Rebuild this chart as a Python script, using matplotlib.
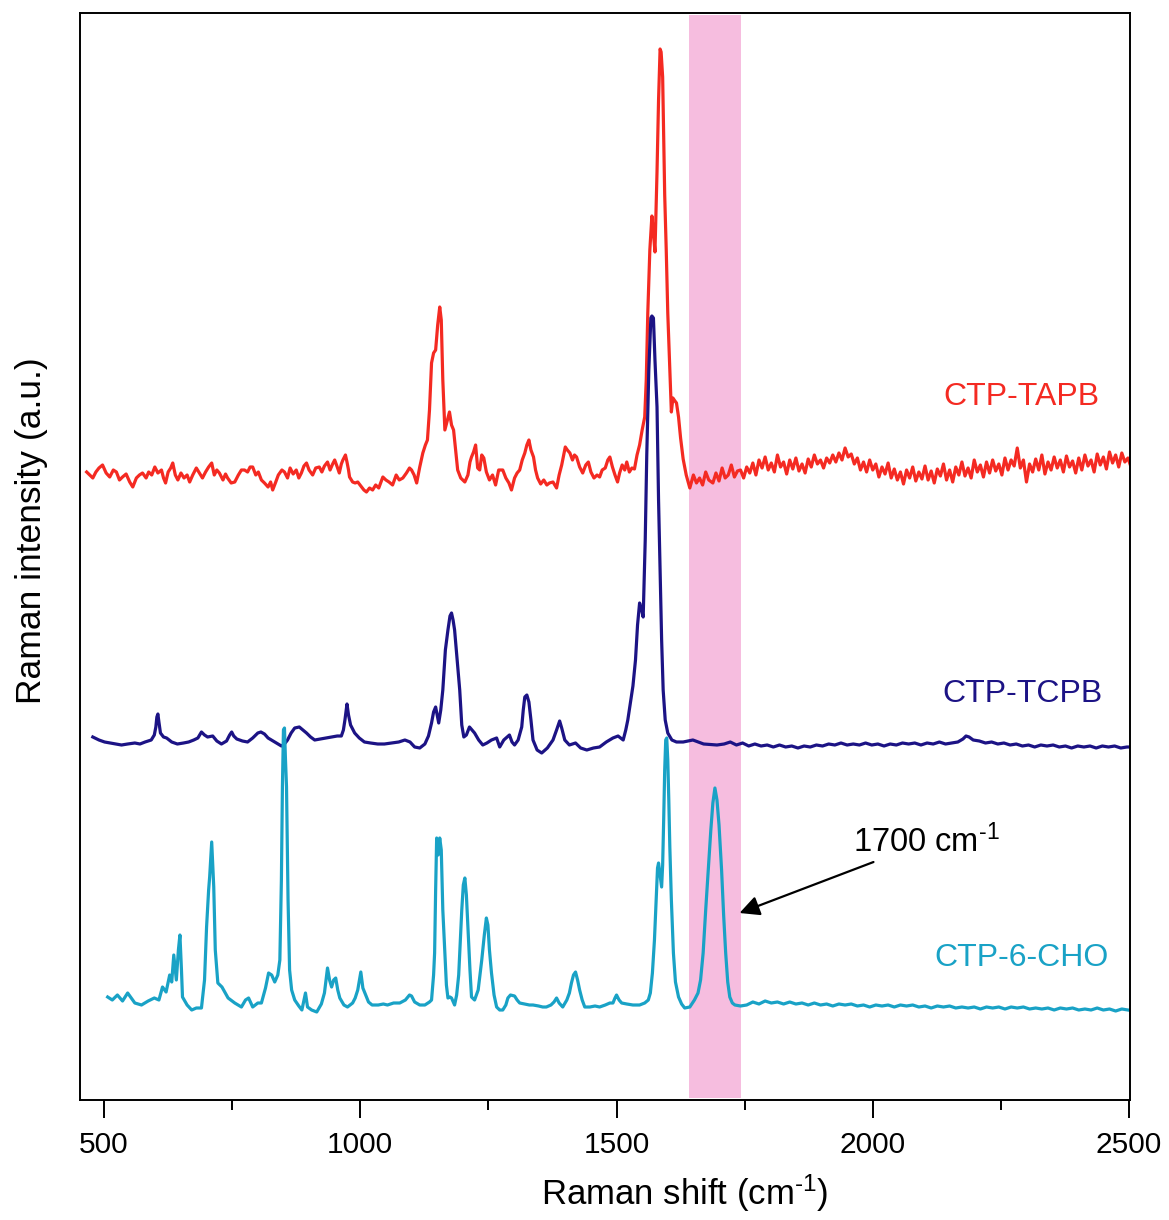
import matplotlib
matplotlib.use("Agg")
import matplotlib.pyplot as plt
import numpy as np

plt.rcParams["font.family"] = ["Liberation Sans", "DejaVu Sans"]
plt.rcParams["mathtext.fontset"] = "custom"
plt.rcParams["mathtext.rm"] = "Liberation Sans"
plt.rcParams["mathtext.it"] = "Liberation Sans:italic"

# Raman spectra readings: (shift in cm-1, intensity in arbitrary units, offset-stacked)
tapb_points = [
    (466, 628), (472, 625), (478, 622), (484, 628), (490, 632), (497, 635), (504, 627), (511, 623),
    (518, 630), (524, 628), (530, 620), (536, 623), (543, 626), (550, 618), (556, 613), (563, 622),
    (569, 625), (575, 627), (582, 622), (587, 628), (593, 625), (599, 633), (605, 627), (612, 630),
    (616, 622), (620, 617), (625, 628), (630, 632), (634, 637), (639, 625), (644, 620), (650, 627),
    (656, 622), (662, 625), (667, 618), (673, 625), (680, 632), (686, 627), (692, 622), (698, 628),
    (704, 633), (710, 637), (715, 625), (720, 630), (725, 627), (732, 620), (737, 626), (741, 622),
    (748, 617), (755, 618), (762, 625), (768, 630), (774, 630), (780, 628), (785, 633), (790, 633),
    (796, 625), (801, 628), (807, 620), (813, 617), (820, 613), (825, 618), (829, 610), (835, 618),
    (840, 625), (847, 630), (852, 628), (858, 622), (863, 632), (869, 626), (875, 630), (880, 622),
    (885, 627), (890, 634), (895, 637), (900, 630), (907, 625), (913, 632), (920, 633), (925, 628),
    (930, 634), (936, 638), (941, 630), (946, 636), (950, 640), (955, 633), (959, 627), (963, 636),
    (966, 640), (971, 645), (974, 638), (977, 630), (979, 623), (985, 618), (990, 617), (995, 618),
    (1001, 614), (1007, 610), (1012, 608), (1018, 612), (1024, 610), (1030, 615), (1036, 612),
    (1044, 623), (1050, 620), (1056, 618), (1063, 615), (1070, 625), (1076, 620), (1083, 622),
    (1090, 627), (1096, 632), (1100, 630), (1105, 625), (1110, 617), (1116, 633), (1122, 647),
    (1127, 655), (1131, 660), (1135, 690), (1139, 737), (1143, 747), (1147, 750), (1151, 775),
    (1155, 793), (1158, 780), (1161, 720), (1165, 670), (1169, 678), (1174, 688), (1178, 675),
    (1182, 670), (1186, 650), (1190, 630), (1196, 622), (1204, 618), (1210, 625), (1214, 638),
    (1217, 643), (1221, 648), (1225, 655), (1229, 632), (1233, 630), (1237, 645), (1241, 642),
    (1246, 628), (1252, 620), (1258, 625), (1264, 615), (1270, 630), (1278, 630), (1284, 622),
    (1290, 617), (1295, 610), (1301, 622), (1306, 627), (1311, 630), (1316, 640), (1321, 647),
    (1325, 655), (1329, 660), (1333, 650), (1338, 643), (1342, 630), (1346, 622), (1352, 616),
    (1358, 620), (1364, 615), (1369, 617), (1376, 618), (1383, 612), (1388, 625), (1393, 635),
    (1397, 645), (1400, 653), (1404, 650), (1409, 647), (1414, 640), (1418, 645), (1422, 643),
    (1428, 633), (1434, 627), (1440, 635), (1445, 638), (1450, 628), (1456, 622), (1462, 625),
    (1467, 623), (1472, 630), (1478, 632), (1483, 640), (1487, 643), (1492, 633), (1497, 625),
    (1502, 618), (1506, 627), (1511, 635), (1516, 630), (1520, 638), (1525, 628), (1530, 632),
    (1535, 631), (1540, 645), (1545, 655), (1550, 670), (1555, 683), (1558, 720), (1561, 787),
    (1565, 850), (1569, 884), (1572, 867), (1575, 848), (1579, 928), (1582, 1000), (1585, 1051),
    (1587, 1048), (1590, 1023), (1594, 905), (1597, 850), (1600, 787), (1604, 730), (1607, 688),
    (1610, 702), (1614, 699), (1617, 697), (1621, 683), (1625, 662), (1630, 641), (1636, 625),
    (1643, 612), (1650, 625), (1656, 617), (1662, 622), (1668, 615), (1674, 628), (1680, 620),
    (1688, 617), (1694, 627), (1700, 619), (1706, 632), (1712, 622), (1718, 625), (1724, 635),
    (1730, 623), (1736, 629), (1742, 630), (1748, 622), (1754, 633), (1760, 627), (1766, 637),
    (1772, 625), (1778, 640), (1784, 632), (1790, 643), (1796, 630), (1802, 637), (1808, 628),
    (1814, 645), (1820, 633), (1826, 638), (1832, 626), (1838, 640), (1844, 631), (1850, 642),
    (1856, 629), (1862, 636), (1868, 627), (1874, 641), (1880, 633), (1886, 645), (1892, 636),
    (1898, 640), (1904, 632), (1910, 642), (1916, 637), (1922, 645), (1928, 638), (1934, 647),
    (1940, 640), (1946, 652), (1952, 643), (1958, 646), (1964, 636), (1970, 642), (1976, 630),
    (1982, 638), (1988, 628), (1994, 640), (2000, 630), (2006, 636), (2012, 623), (2018, 633),
    (2024, 626), (2030, 637), (2036, 622), (2042, 631), (2048, 620), (2054, 628), (2060, 616),
    (2066, 630), (2072, 622), (2078, 633), (2084, 619), (2090, 628), (2096, 621), (2102, 634),
    (2108, 620), (2114, 629), (2120, 617), (2126, 631), (2132, 624), (2138, 636), (2144, 620),
    (2150, 630), (2156, 618), (2162, 633), (2168, 625), (2174, 638), (2180, 624), (2186, 632),
    (2192, 622), (2198, 640), (2204, 628), (2210, 635), (2216, 623), (2222, 638), (2228, 627),
    (2234, 640), (2240, 629), (2246, 636), (2252, 625), (2258, 642), (2264, 630), (2270, 640),
    (2276, 634), (2282, 652), (2288, 632), (2294, 640), (2300, 618), (2306, 636), (2312, 628),
    (2318, 641), (2324, 630), (2330, 645), (2336, 626), (2342, 638), (2348, 630), (2354, 643),
    (2360, 632), (2366, 640), (2372, 628), (2378, 644), (2384, 633), (2390, 639), (2396, 627),
    (2402, 642), (2408, 630), (2414, 645), (2420, 634), (2426, 640), (2432, 628), (2438, 646),
    (2444, 635), (2450, 643), (2456, 631), (2462, 648), (2468, 637), (2474, 645), (2480, 633),
    (2486, 647), (2492, 638), (2498, 642), (2502, 636),
]

tcpb_points = [
    (478, 363), (490, 360), (501, 358), (512, 357), (523, 356), (534, 355), (546, 356), (560, 357),
    (570, 356), (580, 358), (592, 360), (598, 365), (601, 373), (603, 383), (605, 386), (607, 378),
    (610, 367), (616, 363), (622, 362), (632, 358), (643, 356), (655, 357), (665, 358), (675, 360),
    (683, 362), (690, 368), (696, 365), (702, 363), (712, 364), (720, 359), (729, 356), (739, 359),
    (745, 365), (749, 368), (753, 364), (759, 361), (770, 359), (780, 358), (790, 362), (800, 367),
    (806, 368), (813, 366), (820, 362), (833, 358), (846, 354), (852, 356), (858, 360), (865, 367),
    (872, 372), (881, 373), (888, 370), (895, 367), (903, 363), (911, 360), (922, 361), (933, 362),
    (944, 363), (955, 364), (963, 364), (967, 370), (970, 380), (974, 396), (977, 385), (981, 375),
    (989, 367), (998, 362), (1008, 358), (1020, 357), (1034, 356), (1047, 356), (1061, 357),
    (1075, 358), (1087, 360), (1097, 358), (1106, 353), (1116, 352), (1126, 356), (1133, 364),
    (1139, 377), (1143, 388), (1147, 393), (1150, 385), (1153, 377), (1157, 390), (1161, 410),
    (1166, 450), (1171, 470), (1175, 484), (1178, 487), (1181, 480), (1184, 470), (1189, 440),
    (1194, 410), (1198, 375), (1202, 363), (1207, 365), (1213, 373), (1218, 370), (1223, 367),
    (1231, 360), (1239, 355), (1247, 357), (1256, 360), (1266, 362), (1272, 353), (1280, 360),
    (1291, 365), (1296, 358), (1301, 355), (1308, 360), (1315, 373), (1318, 390), (1321, 403),
    (1325, 405), (1329, 398), (1333, 380), (1337, 360), (1345, 350), (1354, 347), (1365, 352),
    (1376, 360), (1383, 370), (1389, 379), (1393, 372), (1399, 360), (1408, 355), (1420, 357),
    (1430, 352), (1442, 350), (1455, 352), (1467, 353), (1480, 358), (1493, 362), (1503, 364),
    (1513, 360), (1518, 370), (1522, 380), (1528, 400), (1532, 414), (1537, 440), (1541, 475),
    (1545, 497), (1549, 490), (1552, 483), (1556, 560), (1559, 645), (1563, 730), (1567, 782),
    (1569, 784), (1572, 782), (1575, 740), (1579, 693), (1582, 600), (1585, 528), (1588, 460),
    (1591, 410), (1595, 380), (1600, 367), (1608, 360), (1617, 358), (1630, 358), (1649, 360),
    (1670, 356), (1696, 355), (1710, 356), (1722, 358), (1734, 355), (1746, 357), (1758, 354),
    (1770, 356), (1782, 354), (1794, 355), (1806, 353), (1818, 355), (1830, 353), (1842, 354),
    (1854, 352), (1866, 354), (1878, 353), (1890, 355), (1902, 354), (1914, 356), (1926, 355),
    (1938, 357), (1950, 355), (1962, 356), (1974, 355), (1986, 357), (1998, 355), (2010, 356),
    (2022, 354), (2034, 356), (2046, 355), (2058, 357), (2070, 356), (2082, 357), (2094, 355),
    (2106, 357), (2118, 356), (2130, 358), (2142, 356), (2154, 357), (2166, 358), (2176, 361),
    (2182, 364), (2188, 363), (2196, 360), (2208, 359), (2220, 357), (2232, 358), (2244, 356),
    (2256, 357), (2268, 355), (2280, 356), (2292, 354), (2304, 355), (2316, 353), (2328, 355),
    (2340, 354), (2352, 355), (2364, 353), (2376, 354), (2388, 352), (2400, 354), (2412, 353),
    (2424, 354), (2436, 352), (2448, 354), (2460, 353), (2472, 354), (2484, 352), (2496, 353),
    (2502, 353),
]

cho_points = [
    (507, 103), (516, 100), (526, 105), (536, 99), (546, 107), (560, 97), (573, 95), (586, 99),
    (598, 102), (607, 100), (614, 113), (621, 108), (628, 125), (632, 118), (636, 145), (641, 120),
    (645, 150), (648, 165), (651, 130), (653, 103), (662, 95), (671, 90), (680, 92), (690, 92),
    (696, 120), (700, 173), (704, 210), (706, 223), (708, 240), (710, 258), (712, 235), (714, 213),
    (717, 150), (722, 117), (730, 113), (742, 102), (755, 97), (768, 93), (776, 100), (782, 102),
    (790, 93), (800, 97), (807, 97), (815, 112), (821, 127), (827, 125), (833, 118), (839, 125),
    (843, 140), (846, 220), (848, 313), (850, 370), (852, 372), (854, 340), (856, 313), (859, 200),
    (862, 130), (866, 110), (872, 100), (880, 94), (886, 90), (893, 107), (897, 93), (905, 90),
    (915, 88), (924, 96), (930, 107), (936, 132), (940, 120), (944, 113), (948, 120), (952, 122),
    (956, 110), (960, 102), (968, 95), (975, 93), (985, 97), (990, 102), (995, 110), (1001, 128),
    (1005, 112), (1009, 107), (1016, 98), (1023, 95), (1035, 95), (1045, 96), (1053, 95),
    (1065, 97), (1077, 97), (1088, 100), (1096, 105), (1100, 104), (1106, 98), (1116, 95),
    (1126, 95), (1135, 98), (1139, 100), (1143, 125), (1145, 147), (1147, 210), (1149, 262),
    (1152, 245), (1155, 262), (1158, 250), (1161, 190), (1165, 147), (1168, 115), (1171, 102),
    (1175, 103), (1178, 102), (1184, 95), (1188, 105), (1192, 125), (1194, 147), (1198, 190),
    (1201, 215), (1204, 222), (1207, 205), (1210, 173), (1214, 130), (1217, 103), (1223, 100),
    (1230, 110), (1237, 140), (1242, 165), (1246, 182), (1249, 175), (1252, 150), (1256, 127),
    (1261, 105), (1266, 93), (1272, 90), (1278, 90), (1284, 95), (1288, 102), (1293, 105),
    (1301, 104), (1306, 100), (1311, 97), (1320, 96), (1330, 95), (1337, 95), (1348, 94),
    (1356, 93), (1363, 93), (1372, 95), (1378, 98), (1383, 102), (1388, 97), (1395, 93),
    (1403, 100), (1408, 107), (1412, 117), (1416, 125), (1420, 128), (1424, 120), (1428, 110),
    (1433, 100), (1438, 93), (1448, 93), (1458, 94), (1467, 93), (1478, 95), (1487, 97),
    (1493, 97), (1497, 102), (1500, 105), (1505, 100), (1510, 97), (1520, 96), (1532, 95),
    (1545, 95), (1555, 97), (1562, 100), (1566, 107), (1570, 127), (1574, 160), (1577, 197),
    (1580, 232), (1582, 237), (1585, 225), (1588, 213), (1590, 235), (1592, 280), (1594, 330),
    (1596, 360), (1598, 362), (1600, 340), (1602, 300), (1604, 253), (1607, 200), (1611, 147),
    (1615, 118), (1621, 103), (1627, 96), (1633, 92), (1643, 93), (1652, 100), (1659, 107),
    (1664, 120), (1669, 147), (1674, 190), (1679, 230), (1684, 270), (1688, 297), (1692, 312),
    (1696, 300), (1700, 275), (1705, 230), (1709, 185), (1713, 147), (1717, 118), (1721, 103),
    (1726, 97), (1731, 95), (1742, 94), (1754, 95), (1766, 98), (1778, 96), (1790, 99),
    (1802, 97), (1814, 98), (1826, 96), (1838, 98), (1850, 96), (1862, 97), (1874, 95),
    (1886, 97), (1898, 95), (1910, 96), (1922, 94), (1934, 96), (1946, 95), (1958, 96),
    (1970, 94), (1982, 95), (1994, 93), (2006, 95), (2018, 94), (2030, 95), (2042, 93),
    (2054, 95), (2066, 94), (2078, 95), (2090, 93), (2102, 94), (2114, 92), (2126, 94),
    (2138, 93), (2150, 94), (2162, 92), (2174, 93), (2186, 92), (2198, 93), (2210, 91),
    (2222, 93), (2234, 92), (2246, 93), (2258, 91), (2270, 93), (2282, 92), (2294, 93),
    (2306, 91), (2318, 92), (2330, 91), (2342, 92), (2354, 90), (2366, 92), (2378, 91),
    (2390, 92), (2402, 90), (2414, 91), (2426, 90), (2438, 92), (2450, 90), (2462, 91),
    (2474, 89), (2486, 91), (2498, 90),
]

tapb_shift, tapb_intensity = map(np.array, zip(*tapb_points))
tcpb_shift, tcpb_intensity = map(np.array, zip(*tcpb_points))
cho_shift, cho_intensity = map(np.array, zip(*cho_points))

sample_names = ["CTP-TAPB", "CTP-TCPB", "CTP-6-CHO"]
sample_colors = ["#F42A22", "#1C1385", "#19A2C6"]
label_positions = [(2291, 703), (2293, 406), (2291, 142)]

highlight_band = (1642, 1743)
x_ticks = [500, 1000, 1500, 2000, 2500]

fig = plt.figure(figsize=(11.69, 12.20), dpi=100)
ax = fig.add_axes([80 / 1169, 1 - 1100 / 1220, 1050 / 1169, 1087 / 1220])

ax.axvspan(*highlight_band, ymin=0.002, ymax=0.998, color="#F6BDDF", lw=0, zorder=0)

series = [(tapb_shift, tapb_intensity), (tcpb_shift, tcpb_intensity), (cho_shift, cho_intensity)]
for (xs, ys), color in zip(series, sample_colors):
    ax.plot(xs, ys, color=color, lw=2.3, zorder=2, solid_joinstyle="round")

for name, color, (tx, ty) in zip(sample_names, sample_colors, label_positions):
    ax.text(tx, ty, name, color=color, fontsize=23, ha="center", va="center")

ax.annotate(r"1700 cm$^{\text{-1}}$", xy=(1740, 187), xytext=(1961, 258),
            fontsize=23.5, ha="left", va="center",
            arrowprops=dict(arrowstyle="-|>", color="black", lw=1.6,
                            mutation_scale=30, shrinkA=0, shrinkB=0))

ax.set_xlim(453, 2502)
ax.set_ylim(0, 1087)
ax.set_xticks(x_ticks)
ax.set_xticks(np.arange(750, 2500, 500), minor=True)
ax.set_yticks([])
ax.tick_params(axis="x", which="major", direction="out", length=13, width=1.4,
               labelsize=21.5, pad=9)
ax.tick_params(axis="x", which="minor", direction="out", length=7, width=1.4)
for sp in ax.spines.values():
    sp.set_linewidth(1.4)

ax.set_xlabel(r"Raman shift (cm$^{\text{-1}}$)", fontsize=25)
ax.xaxis.set_label_coords((685 - 80) / 1050, -0.067)
ax.set_ylabel("Raman intensity (a.u.)", fontsize=25.5)
ax.yaxis.set_label_coords(-0.03, 0.524)

fig.savefig("out.png", dpi=100)
